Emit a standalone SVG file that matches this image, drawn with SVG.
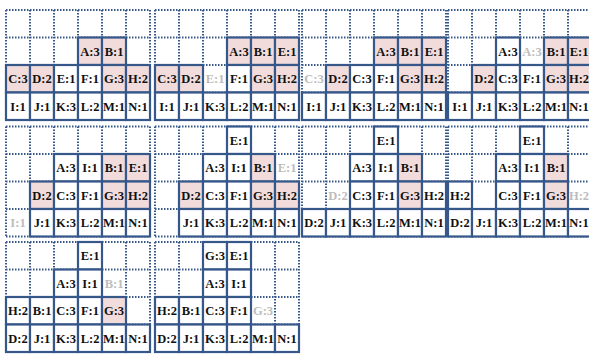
<svg xmlns="http://www.w3.org/2000/svg" xmlns:xlink="http://www.w3.org/1999/xlink" width="589" height="354" viewBox="0 0 589 354">
<style>
.dot{fill:none;stroke:#36578a;stroke-width:2;stroke-dasharray:1.5 1.5}
.c{stroke:#36578a;stroke-width:2.2}
.w{fill:#ffffff}
.k{fill:#f2dcdb}
.bg{fill:#ffffff;stroke:none}
text{font-family:"Liberation Serif","Times New Roman",serif;font-weight:bold;font-size:12.5px;text-anchor:middle;fill:#111}
text.gh{fill:#bdbdbd}
</style>
<defs>
<g id="grid" class="dot">
<path d="M0 0H144M0 27.5H144M0 55H144M0 82.5H144M0 110H144M0 0V110M24 0V110M48 0V110M72 0V110M96 0V110M120 0V110M144 0V110"/>
</g>
</defs>
<rect class="bg" x="0" y="0" width="589" height="354"/>

<g id="panel1" transform="translate(6,10)">
<use xlink:href="#grid"/>
<g id="p1-A"><rect class="c k" x="72" y="27.5" width="24" height="27.5"/><text x="84" y="45.5">A:3</text></g>
<g id="p1-B"><rect class="c k" x="96" y="27.5" width="24" height="27.5"/><text x="108" y="45.5">B:1</text></g>
<g id="p1-C"><rect class="c k" x="0" y="55" width="24" height="27.5"/><text x="12" y="73">C:3</text></g>
<g id="p1-D"><rect class="c k" x="24" y="55" width="24" height="27.5"/><text x="36" y="73">D:2</text></g>
<g id="p1-E"><rect class="c w" x="48" y="55" width="24" height="27.5"/><text x="60" y="73">E:1</text></g>
<g id="p1-F"><rect class="c w" x="72" y="55" width="24" height="27.5"/><text x="84" y="73">F:1</text></g>
<g id="p1-G"><rect class="c k" x="96" y="55" width="24" height="27.5"/><text x="108" y="73">G:3</text></g>
<g id="p1-H"><rect class="c k" x="120" y="55" width="24" height="27.5"/><text x="132" y="73">H:2</text></g>
<g id="p1-I"><rect class="c w" x="0" y="82.5" width="24" height="27.5"/><text x="12" y="100.5">I:1</text></g>
<g id="p1-J"><rect class="c w" x="24" y="82.5" width="24" height="27.5"/><text x="36" y="100.5">J:1</text></g>
<g id="p1-K"><rect class="c w" x="48" y="82.5" width="24" height="27.5"/><text x="60" y="100.5">K:3</text></g>
<g id="p1-L"><rect class="c w" x="72" y="82.5" width="24" height="27.5"/><text x="84" y="100.5">L:2</text></g>
<g id="p1-M"><rect class="c w" x="96" y="82.5" width="24" height="27.5"/><text x="108" y="100.5">M:1</text></g>
<g id="p1-N"><rect class="c w" x="120" y="82.5" width="24" height="27.5"/><text x="132" y="100.5">N:1</text></g>
</g>

<g id="panel2" transform="translate(155,10)">
<use xlink:href="#grid"/>
<g id="p2-A"><rect class="c k" x="72" y="27.5" width="24" height="27.5"/><text x="84" y="45.5">A:3</text></g>
<g id="p2-B"><rect class="c k" x="96" y="27.5" width="24" height="27.5"/><text x="108" y="45.5">B:1</text></g>
<g id="p2-E"><rect class="c k" x="120" y="27.5" width="24" height="27.5"/><text x="132" y="45.5">E:1</text></g>
<g id="p2-C"><rect class="c k" x="0" y="55" width="24" height="27.5"/><text x="12" y="73">C:3</text></g>
<g id="p2-D"><rect class="c k" x="24" y="55" width="24" height="27.5"/><text x="36" y="73">D:2</text></g>
<g id="p2-Eg"><text class="gh" x="60" y="73">E:1</text></g>
<g id="p2-F"><rect class="c w" x="72" y="55" width="24" height="27.5"/><text x="84" y="73">F:1</text></g>
<g id="p2-G"><rect class="c k" x="96" y="55" width="24" height="27.5"/><text x="108" y="73">G:3</text></g>
<g id="p2-H"><rect class="c k" x="120" y="55" width="24" height="27.5"/><text x="132" y="73">H:2</text></g>
<g id="p2-I"><rect class="c w" x="0" y="82.5" width="24" height="27.5"/><text x="12" y="100.5">I:1</text></g>
<g id="p2-J"><rect class="c w" x="24" y="82.5" width="24" height="27.5"/><text x="36" y="100.5">J:1</text></g>
<g id="p2-K"><rect class="c w" x="48" y="82.5" width="24" height="27.5"/><text x="60" y="100.5">K:3</text></g>
<g id="p2-L"><rect class="c w" x="72" y="82.5" width="24" height="27.5"/><text x="84" y="100.5">L:2</text></g>
<g id="p2-M"><rect class="c w" x="96" y="82.5" width="24" height="27.5"/><text x="108" y="100.5">M:1</text></g>
<g id="p2-N"><rect class="c w" x="120" y="82.5" width="24" height="27.5"/><text x="132" y="100.5">N:1</text></g>
</g>

<g id="panel3" transform="translate(302,10)">
<use xlink:href="#grid"/>
<g id="p3-A"><rect class="c k" x="72" y="27.5" width="24" height="27.5"/><text x="84" y="45.5">A:3</text></g>
<g id="p3-B"><rect class="c k" x="96" y="27.5" width="24" height="27.5"/><text x="108" y="45.5">B:1</text></g>
<g id="p3-E"><rect class="c k" x="120" y="27.5" width="24" height="27.5"/><text x="132" y="45.5">E:1</text></g>
<g id="p3-Cg"><text class="gh" x="12" y="73">C:3</text></g>
<g id="p3-D"><rect class="c k" x="24" y="55" width="24" height="27.5"/><text x="36" y="73">D:2</text></g>
<g id="p3-C"><rect class="c w" x="48" y="55" width="24" height="27.5"/><text x="60" y="73">C:3</text></g>
<g id="p3-F"><rect class="c w" x="72" y="55" width="24" height="27.5"/><text x="84" y="73">F:1</text></g>
<g id="p3-G"><rect class="c k" x="96" y="55" width="24" height="27.5"/><text x="108" y="73">G:3</text></g>
<g id="p3-H"><rect class="c k" x="120" y="55" width="24" height="27.5"/><text x="132" y="73">H:2</text></g>
<g id="p3-I"><rect class="c w" x="0" y="82.5" width="24" height="27.5"/><text x="12" y="100.5">I:1</text></g>
<g id="p3-J"><rect class="c w" x="24" y="82.5" width="24" height="27.5"/><text x="36" y="100.5">J:1</text></g>
<g id="p3-K"><rect class="c w" x="48" y="82.5" width="24" height="27.5"/><text x="60" y="100.5">K:3</text></g>
<g id="p3-L"><rect class="c w" x="72" y="82.5" width="24" height="27.5"/><text x="84" y="100.5">L:2</text></g>
<g id="p3-M"><rect class="c w" x="96" y="82.5" width="24" height="27.5"/><text x="108" y="100.5">M:1</text></g>
<g id="p3-N"><rect class="c w" x="120" y="82.5" width="24" height="27.5"/><text x="132" y="100.5">N:1</text></g>
</g>

<g id="panel4" transform="translate(448,10)">
<use xlink:href="#grid"/>
<g id="p4-A"><rect class="c w" x="48" y="27.5" width="24" height="27.5"/><text x="60" y="45.5">A:3</text></g>
<g id="p4-Ag"><text class="gh" x="84" y="45.5">A:3</text></g>
<g id="p4-B"><rect class="c k" x="96" y="27.5" width="24" height="27.5"/><text x="108" y="45.5">B:1</text></g>
<g id="p4-E"><rect class="c k" x="120" y="27.5" width="24" height="27.5"/><text x="131" y="45.5">E:1</text></g>
<g id="p4-D"><rect class="c k" x="24" y="55" width="24" height="27.5"/><text x="36" y="73">D:2</text></g>
<g id="p4-C"><rect class="c w" x="48" y="55" width="24" height="27.5"/><text x="60" y="73">C:3</text></g>
<g id="p4-F"><rect class="c w" x="72" y="55" width="24" height="27.5"/><text x="84" y="73">F:1</text></g>
<g id="p4-G"><rect class="c k" x="96" y="55" width="24" height="27.5"/><text x="108" y="73">G:3</text></g>
<g id="p4-H"><rect class="c k" x="120" y="55" width="24" height="27.5"/><text x="131" y="73">H:2</text></g>
<g id="p4-I"><rect class="c w" x="0" y="82.5" width="24" height="27.5"/><text x="12" y="100.5">I:1</text></g>
<g id="p4-J"><rect class="c w" x="24" y="82.5" width="24" height="27.5"/><text x="36" y="100.5">J:1</text></g>
<g id="p4-K"><rect class="c w" x="48" y="82.5" width="24" height="27.5"/><text x="60" y="100.5">K:3</text></g>
<g id="p4-L"><rect class="c w" x="72" y="82.5" width="24" height="27.5"/><text x="84" y="100.5">L:2</text></g>
<g id="p4-M"><rect class="c w" x="96" y="82.5" width="24" height="27.5"/><text x="108" y="100.5">M:1</text></g>
<g id="p4-N"><rect class="c w" x="120" y="82.5" width="24" height="27.5"/><text x="131" y="100.5">N:1</text></g>
</g>

<g id="panel5" transform="translate(6,126.5)">
<use xlink:href="#grid"/>
<g id="p5-A"><rect class="c w" x="48" y="27.5" width="24" height="27.5"/><text x="60" y="45.5">A:3</text></g>
<g id="p5-I"><rect class="c w" x="72" y="27.5" width="24" height="27.5"/><text x="84" y="45.5">I:1</text></g>
<g id="p5-B"><rect class="c k" x="96" y="27.5" width="24" height="27.5"/><text x="108" y="45.5">B:1</text></g>
<g id="p5-E"><rect class="c k" x="120" y="27.5" width="24" height="27.5"/><text x="132" y="45.5">E:1</text></g>
<g id="p5-D"><rect class="c k" x="24" y="55" width="24" height="27.5"/><text x="36" y="73">D:2</text></g>
<g id="p5-C"><rect class="c w" x="48" y="55" width="24" height="27.5"/><text x="60" y="73">C:3</text></g>
<g id="p5-F"><rect class="c w" x="72" y="55" width="24" height="27.5"/><text x="84" y="73">F:1</text></g>
<g id="p5-G"><rect class="c k" x="96" y="55" width="24" height="27.5"/><text x="108" y="73">G:3</text></g>
<g id="p5-H"><rect class="c k" x="120" y="55" width="24" height="27.5"/><text x="132" y="73">H:2</text></g>
<g id="p5-Ig"><text class="gh" x="12" y="100.5">I:1</text></g>
<g id="p5-J"><rect class="c w" x="24" y="82.5" width="24" height="27.5"/><text x="36" y="100.5">J:1</text></g>
<g id="p5-K"><rect class="c w" x="48" y="82.5" width="24" height="27.5"/><text x="60" y="100.5">K:3</text></g>
<g id="p5-L"><rect class="c w" x="72" y="82.5" width="24" height="27.5"/><text x="84" y="100.5">L:2</text></g>
<g id="p5-M"><rect class="c w" x="96" y="82.5" width="24" height="27.5"/><text x="108" y="100.5">M:1</text></g>
<g id="p5-N"><rect class="c w" x="120" y="82.5" width="24" height="27.5"/><text x="132" y="100.5">N:1</text></g>
</g>

<g id="panel6" transform="translate(155,126.5)">
<use xlink:href="#grid"/>
<g id="p6-E"><rect class="c w" x="72" y="0" width="24" height="27.5"/><text x="84" y="18">E:1</text></g>
<g id="p6-A"><rect class="c w" x="48" y="27.5" width="24" height="27.5"/><text x="60" y="45.5">A:3</text></g>
<g id="p6-I"><rect class="c w" x="72" y="27.5" width="24" height="27.5"/><text x="84" y="45.5">I:1</text></g>
<g id="p6-B"><rect class="c k" x="96" y="27.5" width="24" height="27.5"/><text x="108" y="45.5">B:1</text></g>
<g id="p6-Eg"><text class="gh" x="132" y="45.5">E:1</text></g>
<g id="p6-D"><rect class="c k" x="24" y="55" width="24" height="27.5"/><text x="36" y="73">D:2</text></g>
<g id="p6-C"><rect class="c w" x="48" y="55" width="24" height="27.5"/><text x="60" y="73">C:3</text></g>
<g id="p6-F"><rect class="c w" x="72" y="55" width="24" height="27.5"/><text x="84" y="73">F:1</text></g>
<g id="p6-G"><rect class="c k" x="96" y="55" width="24" height="27.5"/><text x="108" y="73">G:3</text></g>
<g id="p6-H"><rect class="c k" x="120" y="55" width="24" height="27.5"/><text x="132" y="73">H:2</text></g>
<g id="p6-J"><rect class="c w" x="24" y="82.5" width="24" height="27.5"/><text x="36" y="100.5">J:1</text></g>
<g id="p6-K"><rect class="c w" x="48" y="82.5" width="24" height="27.5"/><text x="60" y="100.5">K:3</text></g>
<g id="p6-L"><rect class="c w" x="72" y="82.5" width="24" height="27.5"/><text x="84" y="100.5">L:2</text></g>
<g id="p6-M"><rect class="c w" x="96" y="82.5" width="24" height="27.5"/><text x="108" y="100.5">M:1</text></g>
<g id="p6-N"><rect class="c w" x="120" y="82.5" width="24" height="27.5"/><text x="132" y="100.5">N:1</text></g>
</g>

<g id="panel7" transform="translate(302,126.5)">
<use xlink:href="#grid"/>
<g id="p7-E"><rect class="c w" x="72" y="0" width="24" height="27.5"/><text x="84" y="18">E:1</text></g>
<g id="p7-A"><rect class="c w" x="48" y="27.5" width="24" height="27.5"/><text x="60" y="45.5">A:3</text></g>
<g id="p7-I"><rect class="c w" x="72" y="27.5" width="24" height="27.5"/><text x="84" y="45.5">I:1</text></g>
<g id="p7-B"><rect class="c k" x="96" y="27.5" width="24" height="27.5"/><text x="108" y="45.5">B:1</text></g>
<g id="p7-Dg"><text class="gh" x="36" y="73">D:2</text></g>
<g id="p7-C"><rect class="c w" x="48" y="55" width="24" height="27.5"/><text x="60" y="73">C:3</text></g>
<g id="p7-F"><rect class="c w" x="72" y="55" width="24" height="27.5"/><text x="84" y="73">F:1</text></g>
<g id="p7-G"><rect class="c k" x="96" y="55" width="24" height="27.5"/><text x="108" y="73">G:3</text></g>
<g id="p7-H"><rect class="c w" x="120" y="55" width="24" height="27.5"/><text x="132" y="73">H:2</text></g>
<g id="p7-D"><rect class="c w" x="0" y="82.5" width="24" height="27.5"/><text x="12" y="100.5">D:2</text></g>
<g id="p7-J"><rect class="c w" x="24" y="82.5" width="24" height="27.5"/><text x="36" y="100.5">J:1</text></g>
<g id="p7-K"><rect class="c w" x="48" y="82.5" width="24" height="27.5"/><text x="60" y="100.5">K:3</text></g>
<g id="p7-L"><rect class="c w" x="72" y="82.5" width="24" height="27.5"/><text x="84" y="100.5">L:2</text></g>
<g id="p7-M"><rect class="c w" x="96" y="82.5" width="24" height="27.5"/><text x="108" y="100.5">M:1</text></g>
<g id="p7-N"><rect class="c w" x="120" y="82.5" width="24" height="27.5"/><text x="132" y="100.5">N:1</text></g>
</g>

<g id="panel8" transform="translate(448,126.5)">
<use xlink:href="#grid"/>
<g id="p8-E"><rect class="c w" x="72" y="0" width="24" height="27.5"/><text x="84" y="18">E:1</text></g>
<g id="p8-A"><rect class="c w" x="48" y="27.5" width="24" height="27.5"/><text x="60" y="45.5">A:3</text></g>
<g id="p8-I"><rect class="c w" x="72" y="27.5" width="24" height="27.5"/><text x="84" y="45.5">I:1</text></g>
<g id="p8-B"><rect class="c k" x="96" y="27.5" width="24" height="27.5"/><text x="108" y="45.5">B:1</text></g>
<g id="p8-H"><rect class="c w" x="0" y="55" width="24" height="27.5"/><text x="12" y="73">H:2</text></g>
<g id="p8-C"><rect class="c w" x="48" y="55" width="24" height="27.5"/><text x="60" y="73">C:3</text></g>
<g id="p8-F"><rect class="c w" x="72" y="55" width="24" height="27.5"/><text x="84" y="73">F:1</text></g>
<g id="p8-G"><rect class="c k" x="96" y="55" width="24" height="27.5"/><text x="108" y="73">G:3</text></g>
<g id="p8-Hg"><text class="gh" x="131" y="73">H:2</text></g>
<g id="p8-D"><rect class="c w" x="0" y="82.5" width="24" height="27.5"/><text x="12" y="100.5">D:2</text></g>
<g id="p8-J"><rect class="c w" x="24" y="82.5" width="24" height="27.5"/><text x="36" y="100.5">J:1</text></g>
<g id="p8-K"><rect class="c w" x="48" y="82.5" width="24" height="27.5"/><text x="60" y="100.5">K:3</text></g>
<g id="p8-L"><rect class="c w" x="72" y="82.5" width="24" height="27.5"/><text x="84" y="100.5">L:2</text></g>
<g id="p8-M"><rect class="c w" x="96" y="82.5" width="24" height="27.5"/><text x="108" y="100.5">M:1</text></g>
<g id="p8-N"><rect class="c w" x="120" y="82.5" width="24" height="27.5"/><text x="131" y="100.5">N:1</text></g>
</g>

<g id="panel9" transform="translate(6,242)">
<use xlink:href="#grid"/>
<g id="p9-E"><rect class="c w" x="72" y="0" width="24" height="27.5"/><text x="84" y="18">E:1</text></g>
<g id="p9-A"><rect class="c w" x="48" y="27.5" width="24" height="27.5"/><text x="60" y="45.5">A:3</text></g>
<g id="p9-I"><rect class="c w" x="72" y="27.5" width="24" height="27.5"/><text x="84" y="45.5">I:1</text></g>
<g id="p9-Bg"><text class="gh" x="108" y="45.5">B:1</text></g>
<g id="p9-H"><rect class="c w" x="0" y="55" width="24" height="27.5"/><text x="12" y="73">H:2</text></g>
<g id="p9-B"><rect class="c w" x="24" y="55" width="24" height="27.5"/><text x="36" y="73">B:1</text></g>
<g id="p9-C"><rect class="c w" x="48" y="55" width="24" height="27.5"/><text x="60" y="73">C:3</text></g>
<g id="p9-F"><rect class="c w" x="72" y="55" width="24" height="27.5"/><text x="84" y="73">F:1</text></g>
<g id="p9-G"><rect class="c k" x="96" y="55" width="24" height="27.5"/><text x="108" y="73">G:3</text></g>
<g id="p9-D"><rect class="c w" x="0" y="82.5" width="24" height="27.5"/><text x="12" y="100.5">D:2</text></g>
<g id="p9-J"><rect class="c w" x="24" y="82.5" width="24" height="27.5"/><text x="36" y="100.5">J:1</text></g>
<g id="p9-K"><rect class="c w" x="48" y="82.5" width="24" height="27.5"/><text x="60" y="100.5">K:3</text></g>
<g id="p9-L"><rect class="c w" x="72" y="82.5" width="24" height="27.5"/><text x="84" y="100.5">L:2</text></g>
<g id="p9-M"><rect class="c w" x="96" y="82.5" width="24" height="27.5"/><text x="108" y="100.5">M:1</text></g>
<g id="p9-N"><rect class="c w" x="120" y="82.5" width="24" height="27.5"/><text x="132" y="100.5">N:1</text></g>
</g>

<g id="panel10" transform="translate(155,242)">
<use xlink:href="#grid"/>
<g id="p10-G"><rect class="c w" x="48" y="0" width="24" height="27.5"/><text x="60" y="18">G:3</text></g>
<g id="p10-E"><rect class="c w" x="72" y="0" width="24" height="27.5"/><text x="84" y="18">E:1</text></g>
<g id="p10-A"><rect class="c w" x="48" y="27.5" width="24" height="27.5"/><text x="60" y="45.5">A:3</text></g>
<g id="p10-I"><rect class="c w" x="72" y="27.5" width="24" height="27.5"/><text x="84" y="45.5">I:1</text></g>
<g id="p10-H"><rect class="c w" x="0" y="55" width="24" height="27.5"/><text x="12" y="73">H:2</text></g>
<g id="p10-B"><rect class="c w" x="24" y="55" width="24" height="27.5"/><text x="36" y="73">B:1</text></g>
<g id="p10-C"><rect class="c w" x="48" y="55" width="24" height="27.5"/><text x="60" y="73">C:3</text></g>
<g id="p10-F"><rect class="c w" x="72" y="55" width="24" height="27.5"/><text x="84" y="73">F:1</text></g>
<g id="p10-Gg"><text class="gh" x="108" y="73">G:3</text></g>
<g id="p10-D"><rect class="c w" x="0" y="82.5" width="24" height="27.5"/><text x="12" y="100.5">D:2</text></g>
<g id="p10-J"><rect class="c w" x="24" y="82.5" width="24" height="27.5"/><text x="36" y="100.5">J:1</text></g>
<g id="p10-K"><rect class="c w" x="48" y="82.5" width="24" height="27.5"/><text x="60" y="100.5">K:3</text></g>
<g id="p10-L"><rect class="c w" x="72" y="82.5" width="24" height="27.5"/><text x="84" y="100.5">L:2</text></g>
<g id="p10-M"><rect class="c w" x="96" y="82.5" width="24" height="27.5"/><text x="108" y="100.5">M:1</text></g>
<g id="p10-N"><rect class="c w" x="120" y="82.5" width="24" height="27.5"/><text x="132" y="100.5">N:1</text></g>
</g>

<g id="connectors"></g>
</svg>
